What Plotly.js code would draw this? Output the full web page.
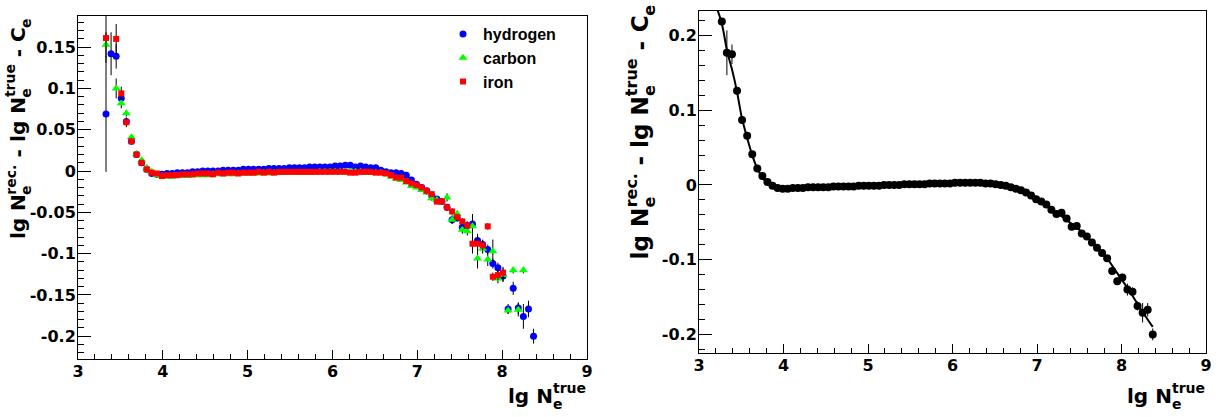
<!DOCTYPE html>
<html><head><meta charset="utf-8">
<script src="https://cdn.plot.ly/plotly-3.0.1.min.js"></script>
<style>html,body{margin:0;padding:0;background:#fff}#chart{width:1221px;height:417px}</style>
</head><body><div id="chart"></div>
<script>
// ---------------- data ----------------
const xBins = [3.27,3.33,3.39,3.45,3.51,3.57,3.63,3.69,3.75,3.81,3.87,3.93,3.99,4.05,4.11,4.17,4.23,4.29,4.35,4.41,
  4.47,4.53,4.59,4.65,4.71,4.77,4.83,4.89,4.95,5.01,5.07,5.13,5.19,5.25,5.31,5.37,5.43,5.49,5.55,5.61,
  5.67,5.73,5.79,5.85,5.91,5.97,6.03,6.09,6.15,6.21,6.27,6.33,6.39,6.45,6.51,6.57,6.63,6.69,6.75,6.81,
  6.87,6.93,6.99,7.05,7.11,7.17,7.23,7.29,7.35,7.41,7.47,7.53,7.59,7.65,7.71,7.77,7.83,7.89,7.95,8.01,
  8.07,8.13,8.19,8.25,8.31,8.37];

const hydrogenY = [null,0.069,0.142,0.139,0.088,0.060,0.036,0.020,0.010,0.002,
  -0.003,-0.004,-0.004,-0.003,-0.003,-0.002,-0.002,-0.002,-0.001,-0.001,
  0.000,0.000,0.000,0.000,0.001,0.001,0.001,0.001,0.002,0.002,
  0.002,0.002,0.002,0.003,0.003,0.003,0.003,0.004,0.004,0.004,
  0.004,0.005,0.005,0.005,0.005,0.005,0.006,0.006,0.007,0.007,
  0.005,0.006,0.005,0.004,0.004,0.001,-0.001,-0.002,-0.002,-0.003,
  -0.005,-0.011,-0.016,-0.020,-0.024,-0.030,-0.034,-0.037,-0.044,-0.059,
  -0.057,-0.068,-0.066,-0.064,-0.084,-0.089,-0.095,-0.112,-0.117,-0.127,
  -0.167,-0.142,-0.166,-0.176,-0.167,-0.200];
const hydrogenErr = [0,0.070,0.026,0.015,0.007,0.004,0.003,0.002,0.002,0.002,
  0.001,0.001,0.001,0.001,0.001,0.001,0.001,0.001,0.001,0.001,
  0.001,0.001,0.001,0.001,0.001,0.001,0.001,0.001,0.001,0.001,
  0.001,0.001,0.001,0.001,0.001,0.001,0.001,0.001,0.001,0.001,
  0.001,0.001,0.001,0.001,0.001,0.001,0.001,0.001,0.001,0.001,
  0.001,0.001,0.001,0.001,0.001,0.001,0.001,0.001,0.002,0.002,
  0.002,0.002,0.002,0.002,0.003,0.003,0.003,0.003,0.004,0.005,
  0.004,0.006,0.005,0.012,0.008,0.006,0.006,0.006,0.006,0.007,
  0.006,0.008,0.007,0.015,0.010,0.009];

const carbonY = [null,0.153,null,0.100,0.082,0.070,0.041,0.021,0.013,0.004,
  -0.001,-0.005,-0.006,-0.007,-0.007,-0.006,-0.006,-0.006,-0.005,-0.005,
  -0.005,-0.005,-0.004,-0.004,-0.004,-0.004,-0.004,-0.003,-0.003,-0.003,
  -0.003,-0.003,-0.002,-0.003,-0.002,-0.002,-0.002,-0.002,-0.002,-0.002,
  -0.002,-0.002,-0.002,-0.001,-0.001,-0.001,-0.001,-0.001,-0.001,-0.001,
  -0.001,-0.001,-0.002,-0.002,-0.002,-0.002,-0.004,-0.007,-0.009,-0.011,
  -0.014,-0.018,-0.020,-0.023,-0.026,-0.033,-0.035,-0.038,-0.032,-0.059,
  -0.052,-0.071,-0.073,-0.067,-0.106,-0.094,-0.107,-0.097,-0.130,-0.126,
  -0.169,-0.120,-0.168,-0.120,null,null];
const carbonErr = [0,0.015,0,0.012,0.006,0.004,0.003,0.002,0.002,0.002,
  0.001,0.001,0.001,0.001,0.001,0.001,0.001,0.001,0.001,0.001,
  0.001,0.001,0.001,0.001,0.001,0.001,0.001,0.001,0.001,0.001,
  0.001,0.001,0.001,0.001,0.001,0.001,0.001,0.001,0.001,0.001,
  0.001,0.001,0.001,0.001,0.001,0.001,0.001,0.001,0.001,0.001,
  0.001,0.001,0.001,0.001,0.001,0.001,0.001,0.002,0.002,0.002,
  0.002,0.002,0.002,0.002,0.003,0.003,0.003,0.003,0.005,0.005,
  0.004,0.005,0.005,0.006,0.012,0.006,0.008,0.014,0.006,0.008,
  0.004,0.004,0.008,0.004,0,0];

const ironY = [null,0.161,null,0.160,0.094,0.059,0.036,0.020,0.010,0.002,
  -0.002,-0.003,-0.006,-0.005,-0.005,-0.005,-0.004,-0.004,-0.004,-0.003,
  -0.003,-0.003,-0.004,-0.002,-0.003,-0.002,-0.002,-0.003,-0.002,-0.002,
  -0.002,-0.001,-0.002,-0.001,-0.002,-0.001,-0.001,-0.001,-0.001,-0.001,
  -0.001,-0.001,-0.001,-0.001,-0.001,-0.001,-0.001,-0.001,-0.001,-0.002,
  -0.002,-0.001,-0.001,-0.001,-0.002,-0.002,-0.003,-0.005,-0.008,-0.008,
  -0.012,-0.015,-0.017,-0.020,-0.024,-0.028,-0.037,-0.037,-0.044,-0.049,
  -0.056,-0.061,-0.066,-0.088,-0.088,-0.090,-0.067,-0.128,-0.126,-0.123,
  null,null,null,null,null,null];
const ironErr = [0,0.030,0,0.018,0.008,0.006,0.004,0.002,0.002,0.002,
  0.001,0.001,0.001,0.001,0.001,0.001,0.001,0.001,0.001,0.001,
  0.001,0.001,0.001,0.001,0.001,0.001,0.001,0.001,0.001,0.001,
  0.001,0.001,0.001,0.001,0.001,0.001,0.001,0.001,0.001,0.001,
  0.001,0.001,0.001,0.001,0.001,0.001,0.001,0.001,0.001,0.001,
  0.001,0.001,0.001,0.001,0.001,0.001,0.001,0.001,0.002,0.002,
  0.002,0.002,0.002,0.002,0.003,0.003,0.003,0.003,0.004,0.004,
  0.004,0.004,0.004,0.012,0.008,0.006,0.004,0.005,0.006,0.007,
  0,0,0,0,0,0];

const allY = [0.219,0.177,0.175,0.126,0.087,0.066,0.041,0.022,0.012,0.004,
  -0.001,-0.004,-0.005,-0.005,-0.004,-0.004,-0.004,-0.003,-0.003,-0.003,
  -0.003,-0.003,-0.002,-0.002,-0.002,-0.002,-0.002,-0.001,-0.001,-0.001,
  -0.001,-0.001,0.000,0.000,0.000,0.000,0.001,0.001,0.001,0.001,
  0.001,0.002,0.002,0.002,0.002,0.002,0.003,0.003,0.003,0.003,
  0.003,0.003,0.002,0.002,0.001,0.000,-0.001,-0.003,-0.005,-0.007,
  -0.010,-0.014,-0.019,-0.022,-0.026,-0.033,-0.039,-0.037,-0.045,-0.056,
  -0.055,-0.065,-0.069,-0.077,-0.084,-0.091,-0.098,-0.115,-0.129,-0.124,
  -0.140,-0.143,-0.162,-0.171,-0.167,-0.200];
const allErr = [0.004,0.030,0.013,0.004,0.003,0.002,0.002,0.001,0.001,0.001,
  0.001,0.001,0.001,0.001,0.001,0.001,0.001,0.001,0.001,0.001,
  0.001,0.001,0.001,0.001,0.001,0.001,0.001,0.001,0.001,0.001,
  0.001,0.001,0.001,0.001,0.001,0.001,0.001,0.001,0.001,0.001,
  0.001,0.001,0.001,0.001,0.001,0.001,0.001,0.001,0.001,0.001,
  0.001,0.001,0.001,0.001,0.001,0.001,0.001,0.001,0.001,0.001,
  0.002,0.002,0.002,0.002,0.002,0.002,0.002,0.002,0.002,0.002,
  0.003,0.003,0.003,0.003,0.003,0.003,0.003,0.004,0.005,0.005,
  0.008,0.006,0.006,0.013,0.009,0.008];

// fitted curve (right panel)
const fitX = [3.20,3.268,3.335,3.39,3.446,3.509,3.568,3.627,3.686,3.745,3.80,3.87,3.95,4.05,4.30,4.70,5.20,5.70,6.10,6.40,
  6.60,6.75,6.90,7.05,7.20,7.35,7.50,7.65,7.80,7.95,8.10,8.25,8.37];
const fitY = [0.240,0.217,0.178,0.155,0.127,0.089,0.064,0.041,0.023,0.011,0.003,-0.002,-0.004,-0.005,-0.004,-0.002,0.000,0.001,0.002,0.002,
  0.000,-0.004,-0.011,-0.021,-0.034,-0.047,-0.060,-0.076,-0.094,-0.118,-0.143,-0.170,-0.190];

const seriesNames = ['hydrogen','carbon','iron'];
const xTickVals = [3,4,5,6,7,8,9];
const xTickText = ['3','4','5','6','7','8','9'];
const yTickValsL = [-0.2,-0.15,-0.1,-0.05,0,0.05,0.1,0.15];
const yTickTextL = ['-0.2','-0.15','-0.1','-0.05','0','0.05','0.1','0.15'];
const yTickValsR = [-0.2,-0.1,0,0.1,0.2];
const yTickTextR = ['-0.2','-0.1','0','0.1','0.2'];

// ---------------- layout helpers ----------------
const W = 1221, H = 417;
const FAM = 'DejaVu Sans';
const tickFont = {family: FAM, size: 16, color: 'black', weight: 'bold'};
const ctx = document.createElement('canvas').getContext('2d');
function textWidth(t, size) { ctx.font = 'bold ' + size + 'px "' + FAM + '"'; return ctx.measureText(t).width; }

const SUP = 0.50, SUB = 0.30, ASC = 0.346;
function composeTitle(parts, F, endPx, basePx, rotated) {
  const s = Math.round(F * 0.7);
  const pieces = []; let pos = 0;
  const gap = textWidth('a a', F) - textWidth('aa', F);
  parts.forEach(p => {
    if (p.gap) { pos += gap; return; }
    if (p.t) { const w = textWidth(p.t, F); pieces.push({text: p.t, size: F, along: pos + w / 2, perp: ASC * F}); pos += w; return; }
    let wm = 0;
    if (p.sub) { const w = textWidth(p.sub, s); pieces.push({text: p.sub, size: s, along: pos + w / 2, perp: -SUB * F + ASC * s}); wm = Math.max(wm, w); }
    if (p.sup) { const w = textWidth(p.sup, s); pieces.push({text: p.sup, size: s, along: pos + w / 2, perp: SUP * F + ASC * s}); wm = Math.max(wm, w); }
    pos += wm;
  });
  const L = pos;
  return pieces.map(pc => {
    let px, py;
    if (rotated) { const y0 = endPx + L; px = basePx - pc.perp; py = y0 - pc.along; }
    else { const x0 = endPx - L; px = x0 + pc.along; py = basePx - pc.perp; }
    return {xref: 'paper', yref: 'paper', x: px / W, y: 1 - py / H, xanchor: 'center', yanchor: 'middle',
      text: pc.text, textangle: rotated ? -90 : 0, showarrow: false, borderpad: 0, borderwidth: 0,
      font: {family: FAM, size: pc.size, color: 'black', weight: 'bold'}};
  });
}
const yTitleParts = [{t: 'lg N'}, {sub: 'e', sup: 'rec.'}, {gap: 1}, {t: '-'}, {gap: 1}, {t: 'lg N'}, {sub: 'e', sup: 'true'},
  {gap: 1}, {t: '-'}, {gap: 1}, {t: 'C'}, {sub: 'e'}];
const xTitleParts = [{t: 'lg N'}, {sub: 'e', sup: 'true'}];

const annotations = [].concat(
  composeTitle(yTitleParts, 20, 18, 25, true),
  composeTitle(yTitleParts, 23, 5, 648, true),
  composeTitle(xTitleParts, 20, 586, 403, false),
  composeTitle(xTitleParts, 20, 1205, 403, false)
);

function errBars(arr) { return {type: 'data', array: arr, visible: true, color: 'black', thickness: 1, width: 0}; }

const traces = [
  {type: 'scatter', mode: 'markers', name: seriesNames[0], x: xBins, y: hydrogenY, error_y: errBars(hydrogenErr),
   marker: {symbol: 'circle', size: 7, color: '#0000ff'}, xaxis: 'x', yaxis: 'y'},
  {type: 'scatter', mode: 'markers', name: seriesNames[1], x: xBins, y: carbonY, error_y: errBars(carbonErr),
   marker: {symbol: 'triangle-up', size: 8, color: '#00ff00'}, xaxis: 'x', yaxis: 'y'},
  {type: 'scatter', mode: 'markers', name: seriesNames[2], x: xBins, y: ironY, error_y: errBars(ironErr),
   marker: {symbol: 'square', size: 6, color: '#ff0000'}, xaxis: 'x', yaxis: 'y'},
  {type: 'scatter', mode: 'markers', name: 'all', showlegend: false, x: xBins, y: allY, error_y: errBars(allErr),
   marker: {symbol: 'circle', size: 8, color: 'black'}, xaxis: 'x2', yaxis: 'y2'},
  {type: 'scatter', mode: 'lines', name: 'fit', showlegend: false, x: fitX, y: fitY,
   line: {color: 'black', width: 2, shape: 'spline', smoothing: 1}, xaxis: 'x2', yaxis: 'y2'}
];

function xAxis(dom, anchor) {
  return {domain: dom, anchor: anchor, range: [3, 9], tickmode: 'array', tickvals: xTickVals, ticktext: xTickText,
    showline: true, mirror: true, linecolor: 'black', linewidth: 1, ticks: 'inside', ticklen: 9, tickcolor: 'black',
    showgrid: false, zeroline: false, tickfont: tickFont, fixedrange: true, ticklabelstandoff: -2,
    minor: {tickmode: 'linear', tick0: 0, dtick: 0.2, ticks: 'inside', ticklen: 5, tickcolor: 'black', showgrid: false}};
}
function yAxis(dom, anchor, range, vals, text, mdt) {
  return {domain: dom, anchor: anchor, range: range, tickmode: 'array', tickvals: vals, ticktext: text,
    showline: true, mirror: true, linecolor: 'black', linewidth: 1, ticks: 'inside', ticklen: 13, tickcolor: 'black',
    showgrid: false, zeroline: false, tickfont: tickFont, fixedrange: true, ticklabelstandoff: -2,
    minor: {tickmode: 'linear', tick0: 0, dtick: mdt, ticks: 'inside', ticklen: 6, tickcolor: 'black', showgrid: false}};
}

const layout = {
  width: W, height: H, margin: {l: 0, r: 0, t: 0, b: 0}, paper_bgcolor: 'white', plot_bgcolor: 'white',
  showlegend: true,
  legend: {x: 443 / W, y: 1 - 17 / H, xanchor: 'left', yanchor: 'top', bgcolor: 'rgba(0,0,0,0)', borderwidth: 0,
    font: {family: 'Liberation Sans', size: 16, color: 'black', weight: 'bold'}},
  xaxis: xAxis([78 / W, 587 / W], 'y'),
  yaxis: yAxis([1 - 359 / H, 1 - 16 / H], 'x', [-0.2276, 0.1877], yTickValsL, yTickTextL, 0.01),
  xaxis2: xAxis([699 / W, 1206 / W], 'y2'),
  yaxis2: yAxis([1 - 353 / H, 1 - 11 / H], 'x2', [-0.2249, 0.2329], yTickValsR, yTickTextR, 0.02),
  annotations: annotations
};

Plotly.newPlot('chart', traces, layout, {displayModeBar: false, staticPlot: true});
</script>
</body></html>
